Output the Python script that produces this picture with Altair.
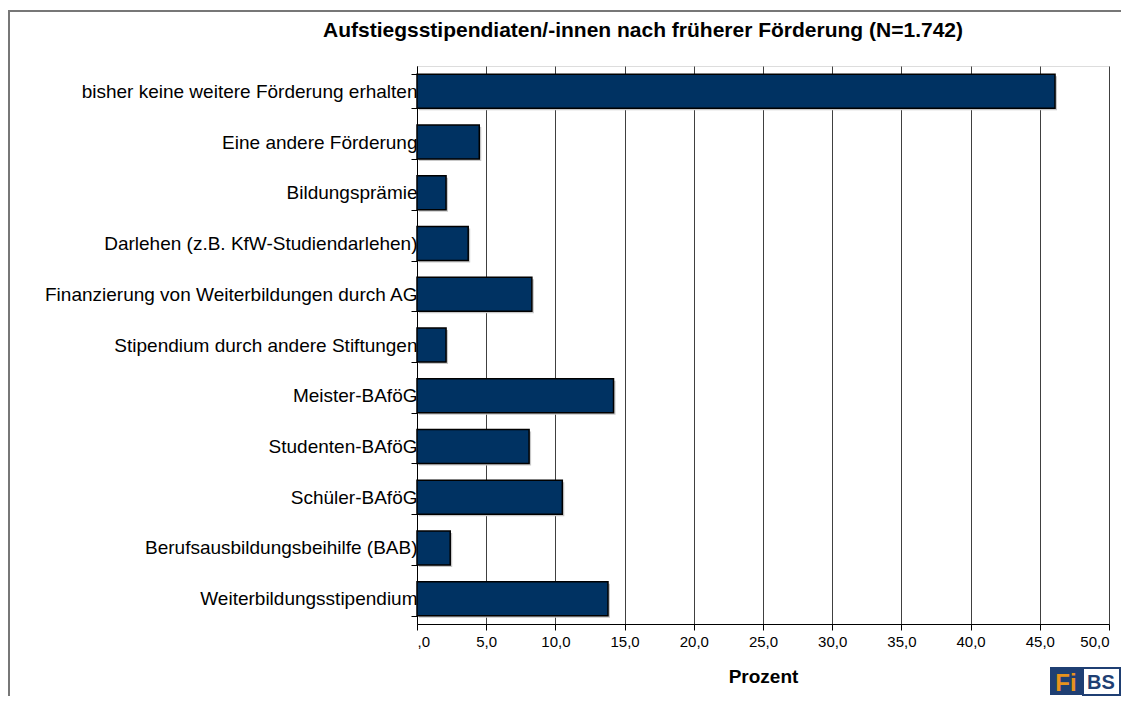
import altair as alt
import pandas as pd

categories = [
    "bisher keine weitere Förderung erhalten",
    "Eine andere Förderung",
    "Bildungsprämie",
    "Darlehen (z.B. KfW-Studiendarlehen)",
    "Finanzierung von Weiterbildungen durch AG",
    "Stipendium durch andere Stiftungen",
    "Meister-BAföG",
    "Studenten-BAföG",
    "Schüler-BAföG",
    "Berufsausbildungsbeihilfe (BAB)",
    "Weiterbildungsstipendium",
]
values = [46.1, 4.5, 2.1, 3.7, 8.3, 2.1, 14.2, 8.1, 10.5, 2.4, 13.8]
x_ticks = [0, 5, 10, 15, 20, 25, 30, 35, 40, 45, 50]

title_text = "Aufstiegsstipendiaten/-innen nach früherer Förderung (N=1.742)"
x_title = "Prozent"

df = pd.DataFrame({"kat": categories, "wert": values})
one = pd.DataFrame({"a": [0]})

W, H = 692, 558
PAD_L, PAD_T, PAD_R, PAD_B = 409, 58, 12, 72
FONT = "Liberation Sans"

x_enc = alt.X(
    "wert:Q",
    scale=alt.Scale(domain=[0, 50], nice=False),
    axis=alt.Axis(
        values=x_ticks,
        labelExpr="datum.value == 0 ? ',0' : replace(format(datum.value, '.1f'), '.', ',')",
        title=x_title,
        titleFontSize=19,
        titleFontWeight="bold",
        titleFont=FONT,
        titleColor="#000",
        titlePadding=18,
        labelFont=FONT,
        labelFontSize=15,
        labelColor="#000",
        labelPadding=4,
        tickSize=6,
        tickColor="#000",
        domainColor="#000",
        grid=True,
        gridColor="#404040",
        gridOpacity=1,
        gridWidth=1,
    ),
)
y_enc = alt.Y(
    "kat:N",
    sort=categories,
    scale=alt.Scale(paddingInner=0.33, paddingOuter=0.165),
    axis=alt.Axis(
        title=None,
        labelFont=FONT,
        labelFontSize=19,
        labelColor="#000",
        labelLimit=0,
        labelPadding=-6,
        tickBand="extent",
        tickSize=6,
        tickColor="#000",
        domainColor="#000",
        grid=False,
    ),
)

shadow = alt.Chart(df).mark_bar(color="#c8c8c8", xOffset=2, yOffset=2).encode(x=x_enc, y=y_enc)
bars = alt.Chart(df).mark_bar(color="#003262", stroke="#000", strokeWidth=1.5).encode(x=x_enc, y=y_enc)

# chart title as a text annotation
title = alt.Chart(one).mark_text(
    text=title_text, font=FONT, fontSize=21, fontWeight="bold", color="#000",
    align="center", baseline="alphabetic",
).encode(x=alt.value(226), y=alt.value(-29))

# decorative frame (top and left edge of the original slide)
frame_left = alt.Chart(one).mark_rule(color="#777", strokeWidth=2).encode(
    x=alt.value(-408), y=alt.value(-55), y2=alt.value(640)
)
frame_top = alt.Chart(one).mark_rule(color="#777", strokeWidth=2).encode(
    x=alt.value(-412), x2=alt.value(712), y=alt.value(-55)
)

# logo
logo_box1 = alt.Chart(one).mark_rect(color="#1f3f73").encode(
    x=alt.value(633), x2=alt.value(666), y=alt.value(601), y2=alt.value(629)
)
logo_box2 = alt.Chart(one).mark_rect(fill="#ffffff", stroke="#1f3f73", strokeWidth=2).encode(
    x=alt.value(666), x2=alt.value(703), y=alt.value(602), y2=alt.value(629)
)
logo_fi = alt.Chart(one).mark_text(
    text="Fi", color="#e8921c", font=FONT, fontSize=24, fontWeight="bold", align="center", baseline="alphabetic"
).encode(x=alt.value(649), y=alt.value(625))
logo_bs = alt.Chart(one).mark_text(
    text="BS", color="#1f3f73", font=FONT, fontSize=20, fontWeight="bold", align="center", baseline="alphabetic"
).encode(x=alt.value(684), y=alt.value(623))

chart = (
    alt.layer(frame_left, frame_top, title, shadow, bars, logo_box1, logo_box2, logo_fi, logo_bs)
    .properties(
        width=W,
        height=H,
        autosize=alt.AutoSizeParams(type="none"),
        padding={"left": PAD_L, "top": PAD_T, "right": PAD_R, "bottom": PAD_B},
    )
    .configure_view(stroke=None)
    .configure(background="white")
)

chart.save("out.html", embed_options={"renderer": "svg", "actions": False})
